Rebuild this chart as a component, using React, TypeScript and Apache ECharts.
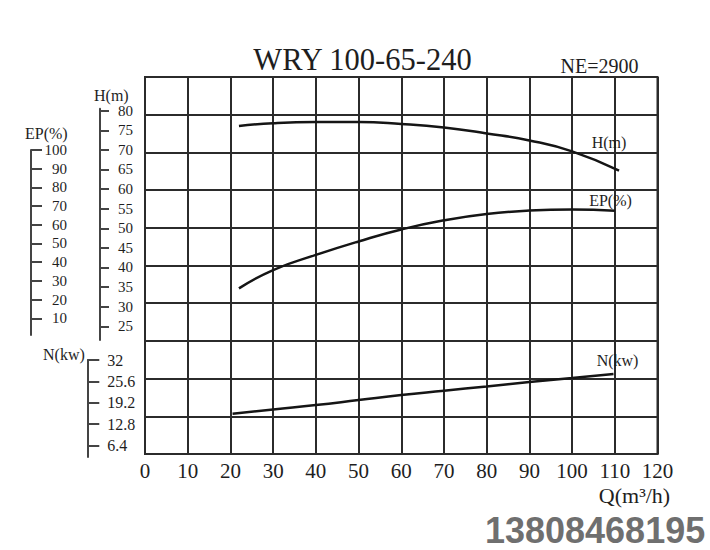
import React, { useEffect, useRef } from "react";
import * as echarts from "echarts";

// ---- data ----
const qTicks = [0, 120, 10];
const hTicks = [25, 30, 35, 40, 45, 50, 55, 60, 65, 70, 75, 80];
const epTicks = [10, 20, 30, 40, 50, 60, 70, 80, 90, 100];
const nTicks = [6.4, 12.8, 19.2, 25.6, 32];

const qH = [22, 30, 40, 50, 60, 70, 80, 90, 100, 111];
const hVals = [76.1, 76.8, 77.1, 77.1, 76.6, 75.7, 74.2, 72.4, 69.6, 64.7];

const qEP = [22, 30, 40, 50, 60, 70, 80, 90, 100, 110];
const epVals = [26.0, 35.8, 43.9, 51.1, 57.5, 62.4, 65.8, 67.6, 68.2, 67.5];

const qN = [20.5, 30, 40, 50, 60, 70, 80, 90, 100, 109.7];
const nVals = [15.9, 17.2, 18.5, 20.0, 21.5, 22.8, 24.1, 25.4, 26.6, 27.8];

const titleText = "WRY 100-65-240";
const speedText = "NE=2900";
const qName = "Q(m³/h)";
const hName = "H(m)";
const epName = "EP(%)";
const nName = "N(kw)";
const phoneText = "13808468195";

const SERIF = "'Liberation Serif', 'Times New Roman', serif";
const GRID_COLOR = "#2b2b2b";
const AXIS_COLOR = "#444";
const TEXT_COLOR = "#1e1e1e";

const pairs = (xs: number[], ys: number[]) => xs.map((x, i) => [x, ys[i]]);

export default function App() {
  const ref = useRef<HTMLDivElement>(null);
  useEffect(() => {
    if (!ref.current) return;
    const chart = echarts.init(ref.current, undefined, { renderer: "svg" });

    const L = 145;
    const R = 710 - 657.5;
    const hiddenX = (gi: number) => ({
      type: "value",
      gridIndex: gi,
      min: qTicks[0],
      max: qTicks[1],
      show: false,
    });
    const sideY = (gi: number, offset: number, min: number, max: number, ticks: number[], tickLen: number, margin: number, align: string, fs: number) => ({
      type: "value",
      gridIndex: gi,
      position: "left",
      offset,
      min,
      max,
      splitLine: { show: false },
      axisLine: { show: true, onZero: false, lineStyle: { color: AXIS_COLOR, width: 2 } },
      axisTick: { show: true, inside: true, length: tickLen, customValues: ticks, lineStyle: { color: AXIS_COLOR, width: 2 } },
      axisLabel: {
        show: true,
        inside: true,
        margin,
        align,
        customValues: ticks,
        fontFamily: SERIF,
        fontSize: fs,
        color: TEXT_COLOR,
      },
    });

    const lineSeries = (idx: number, data: number[][]) => ({
      type: "line",
      xAxisIndex: idx,
      yAxisIndex: idx,
      data,
      smooth: true,
      showSymbol: false,
      symbol: "none",
      lineStyle: { color: "#151515", width: 2.5 },
      z: 5,
    });

    const txt = (text: string, x: number, y: number, fs: number, align = "left", extra: any = {}) => ({
      type: "text",
      x,
      y,
      style: {
        text,
        fontFamily: SERIF,
        fontSize: fs,
        fill: TEXT_COLOR,
        textAlign: align,
        textVerticalAlign: "middle",
        ...extra,
      },
      z: 10,
    });

    chart.setOption({
      animation: false,
      backgroundColor: "#ffffff",
      grid: [
        { left: L, right: R, top: 77, height: 377, show: true, borderColor: GRID_COLOR, borderWidth: 2 },
        { left: L, right: R, top: 108.7, height: 231.3 },
        { left: L, right: R, top: 150, height: 185.1 },
        { left: L, right: R, top: 360, height: 96.9 },
      ],
      xAxis: [
        {
          type: "value",
          gridIndex: 0,
          min: qTicks[0],
          max: qTicks[1],
          interval: qTicks[2],
          axisLine: { show: true, lineStyle: { color: GRID_COLOR, width: 2 } },
          axisTick: { show: false },
          axisLabel: { fontFamily: SERIF, fontSize: 21, color: TEXT_COLOR, margin: 6 },
          splitLine: { show: true, lineStyle: { color: GRID_COLOR, width: 2 } },
        },
        hiddenX(1),
        hiddenX(2),
        hiddenX(3),
      ],
      yAxis: [
        {
          type: "value",
          gridIndex: 0,
          min: 0,
          max: 10,
          interval: 1,
          axisLine: { show: true, lineStyle: { color: GRID_COLOR, width: 2 } },
          axisTick: { show: false },
          axisLabel: { show: false },
          splitLine: { show: true, lineStyle: { color: GRID_COLOR, width: 2 } },
        },
        sideY(1, 45, 21.5, 80.5, hTicks, 9, 18, "left", 15),
        sideY(2, 114, 1, 100, epTicks, 11, 36, "right", 15),
        sideY(3, 57.7, 3, 32, nTicks, 12, 20, "left", 16),
      ],
      series: [
        lineSeries(1, pairs(qH, hVals)),
        lineSeries(2, pairs(qEP, epVals)),
        lineSeries(3, pairs(qN, nVals)),
      ],
      graphic: [
        txt(titleText, 362.5, 60, 30.5, "center"),
        txt(speedText, 599.5, 66, 20, "center"),
        txt(hName, 94, 95, 16),
        txt(epName, 25, 133, 16),
        txt(nName, 43, 354, 16),
        txt(hName, 609, 142, 16, "center"),
        txt(epName, 610.5, 200, 16, "center"),
        txt(nName, 617.5, 360, 16, "center"),
        txt(qName, 634.5, 495, 22, "center"),
        {
          type: "text",
          x: 485,
          y: 530,
          scaleY: 1.04,
          style: {
            text: phoneText,
            fontFamily: "'Liberation Sans', Arial, sans-serif",
            fontWeight: "bold",
            fontSize: 36,
            fill: "#6f6f6f",
            textAlign: "left",
            textVerticalAlign: "middle",
          },
          z: 10,
        },
      ],
    });
    return () => chart.dispose();
  }, []);
  return (
    <div
      ref={ref}
      style={{ position: "absolute", left: 0, top: 0, width: 710, height: 550, background: "#fff" }}
    />
  );
}
